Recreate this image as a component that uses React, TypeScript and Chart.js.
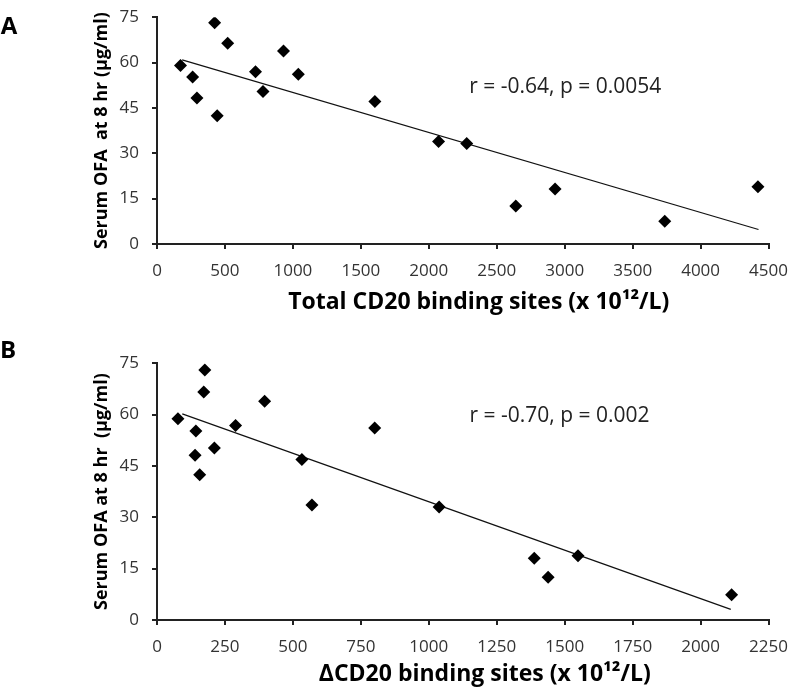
import { useEffect, useRef } from "react"
import { Chart, registerables, type ChartConfiguration, type Plugin } from "chart.js"

Chart.register(...registerables)

// Panel A: total CD20 binding sites vs serum OFA
const totalSitesA = [173, 262, 294, 424, 443, 520, 725, 780, 931, 1040, 1603, 2072, 2279, 2640, 2929, 3736, 4422]
const serumOfaA = [59.0, 55.2, 48.3, 73.2, 42.4, 66.4, 57.0, 50.4, 63.8, 56.1, 47.1, 33.9, 33.2, 12.6, 18.2, 7.5, 18.9]
const trendXA = [185, 4426]
const trendYA = [60.9, 4.8]
const xTicksA = [0, 500, 1000, 1500, 2000, 2500, 3000, 3500, 4000, 4500]

// Panel B: delta CD20 binding sites vs serum OFA
const deltaSitesB = [77, 143, 140, 157, 176, 172, 211, 289, 396, 533, 570, 801, 1038, 1388, 1439, 1549, 2114]
const serumOfaB = [58.8, 55.2, 48.1, 42.4, 73.0, 66.6, 50.2, 56.8, 63.9, 46.9, 33.6, 56.1, 33.0, 18.0, 12.5, 18.8, 7.4]
const trendXB = [93, 2111]
const trendYB = [60.2, 3.1]
const xTicksB = [0, 250, 500, 750, 1000, 1250, 1500, 1750, 2000, 2250]

const yTicks = [0, 15, 30, 45, 60, 75]

const FONT = "'Open Sans', 'Liberation Sans', sans-serif"

type Panel = {
  letter: string
  xs: number[]
  ys: number[]
  trendX: number[]
  trendY: number[]
  xTicks: number[]
  xTitle: string
  yTitle: string
  stat: string
  statAt: [number, number]
  padTop: number
  xAxisHeight: number
  letterPos: [number, number]
  titleGap: number
  titleShift: number
}

const panels: Panel[] = [
  {
    letter: "A",
    xs: totalSitesA,
    ys: serumOfaA,
    trendX: trendXA,
    trendY: trendYA,
    xTicks: xTicksA,
    xTitle: "Total CD20 binding sites (x 10¹²/L)",
    yTitle: "Serum OFA  at 8 hr (μg/ml)",
    stat: "r = -0.64, p = 0.0054",
    statAt: [3004, 52],
    padTop: 11,
    xAxisHeight: 96,
    letterPos: [9, 33],
    titleGap: 58,
    titleShift: 16,
  },
  {
    letter: "B",
    xs: deltaSitesB,
    ys: serumOfaB,
    trendX: trendXB,
    trendY: trendYB,
    xTicks: xTicksB,
    xTitle: "ΔCD20 binding sites (x 10¹²/L)",
    yTitle: "Serum OFA at 8 hr  (μg/ml)",
    stat: "r = -0.70, p = 0.002",
    statAt: [1481, 59.7],
    padTop: 20,
    xAxisHeight: 76,
    letterPos: [8, 11],
    titleGap: 54,
    titleShift: 22,
  },
]

function makeConfig(p: Panel): ChartConfiguration {
  const textPlugin: Plugin = {
    id: "panelText",
    afterDraw(chart) {
      const ctx = chart.ctx
      const { left, right, bottom } = chart.chartArea
      const sx = chart.scales.x
      const sy = chart.scales.y
      ctx.save()
      ctx.textBaseline = "middle"
      ctx.textAlign = "center"
      ctx.fillStyle = "#000"
      ctx.font = `bold 24px ${FONT}`
      ctx.fillText(p.letter, p.letterPos[0], p.letterPos[1])
      ctx.font = `bold 23px ${FONT}`
      ctx.fillText(p.xTitle, (left + right) / 2 + p.titleShift, bottom + p.titleGap)
      ctx.fillStyle = "#222"
      ctx.font = `21px ${FONT}`
      ctx.fillText(p.stat, sx.getPixelForValue(p.statAt[0]), sy.getPixelForValue(p.statAt[1]))
      ctx.restore()
    },
  }

  return {
    type: "scatter",
    data: {
      datasets: [
        {
          label: "data",
          data: p.xs.map((x, i) => ({ x, y: p.ys[i] })),
          pointStyle: "rectRot",
          pointRadius: 6.5,
          pointBackgroundColor: "#000",
          pointBorderColor: "#000",
          pointBorderWidth: 0,
          showLine: false,
        },
        {
          label: "trend",
          data: p.trendX.map((x, i) => ({ x, y: p.trendY[i] })),
          showLine: true,
          borderColor: "#111",
          borderWidth: 1.2,
          pointRadius: 0,
        },
      ],
    },
    plugins: [textPlugin],
    options: {
      responsive: false,
      animation: false,
      layout: { padding: { top: p.padTop, right: 20, left: 0, bottom: 0 } },
      plugins: { legend: { display: false }, tooltip: { enabled: false } },
      scales: {
        x: {
          type: "linear",
          min: 0,
          max: p.xTicks[p.xTicks.length - 1],
          afterBuildTicks: (s) => {
            s.ticks = p.xTicks.map((v) => ({ value: v }))
          },
          afterFit: (s) => {
            s.height = p.xAxisHeight
          },
          grid: { drawOnChartArea: false, tickLength: 5, color: "#222", lineWidth: 2 },
          border: { color: "#222", width: 2 },
          ticks: {
            color: "#333",
            font: { family: FONT, size: 17 },
            padding: 12,
            callback: (v) => String(v),
          },
        },
        y: {
          type: "linear",
          min: 0,
          max: 75,
          afterBuildTicks: (s) => {
            s.ticks = yTicks.map((v) => ({ value: v }))
          },
          afterFit: (s) => {
            s.width = 157
          },
          grid: { drawOnChartArea: false, tickLength: 5, color: "#222", lineWidth: 2 },
          border: { color: "#222", width: 2 },
          ticks: {
            color: "#333",
            font: { family: FONT, size: 17 },
            padding: 13,
            callback: (v) => String(v),
          },
          title: {
            display: true,
            text: p.yTitle,
            color: "#000",
            font: { family: FONT, size: 18, weight: "bold" },
            padding: { top: 91, bottom: 0 },
          },
        },
      },
    },
  }
}

function PanelChart({ panel, top, height }: { panel: Panel; top: number; height: number }) {
  const ref = useRef<HTMLCanvasElement>(null)

  useEffect(() => {
    if (!ref.current) return
    const chart = new Chart(ref.current, makeConfig(panel))
    return () => chart.destroy()
  }, [panel])

  return (
    <canvas
      ref={ref}
      width={800}
      height={height}
      style={{ position: "absolute", left: 0, top, width: 800, height }}
    />
  )
}

export default function App() {
  useEffect(() => {
    document.body.style.margin = "0"
  }, [])

  return (
    <div style={{ position: "relative", width: 800, height: 696, overflow: "hidden", background: "#fff" }}>
      <PanelChart panel={panels[0]} top={-6} height={346} />
      <PanelChart panel={panels[1]} top={340} height={356} />
    </div>
  )
}
